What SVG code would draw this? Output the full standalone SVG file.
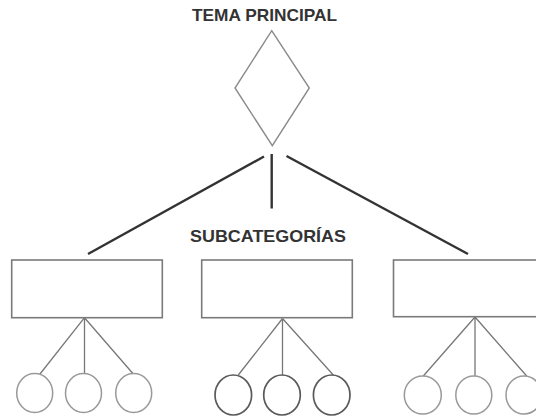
<svg xmlns="http://www.w3.org/2000/svg" width="536" height="417" viewBox="0 0 536 417">
<style>
.t{font-family:"Liberation Sans",Arial,sans-serif;font-weight:bold;font-size:17px;fill:#333}
.dia{fill:#fff;stroke:#8a8a8a;stroke-width:1.4}
.box{fill:#fff;stroke:#7a7a7a;stroke-width:1.6}
.main{stroke:#333;stroke-width:2.4;stroke-linecap:butt;fill:none}
.sub{stroke:#777;stroke-width:1.3;fill:none}
.c{fill:#fff;stroke:#999;stroke-width:1.5}
.cd{fill:#fff;stroke:#5a5a5a;stroke-width:1.7}
</style>
<rect width="536" height="417" fill="#fff"/>
<g id="connectors">
<line class="main" x1="264" y1="156.5" x2="88" y2="254"/>
<line class="main" x1="271.7" y1="154" x2="271.7" y2="208.5"/>
<line class="main" x1="286.5" y1="156" x2="468" y2="254"/>
<path class="sub" d="M84.5 317.7L40 374M84.5 317.7L84.5 374M84.5 317.7L133.3 374"/>
<path class="sub" d="M282.5 318.5L238.3 375M282.5 318.5L282.5 376M282.5 318.5L333.3 375"/>
<path class="sub" d="M475 317L423.3 376M475 317L475 376M475 317L526.7 376"/>
</g>
<g id="tema-principal">
<text class="t" x="192" y="20.7" textLength="145" lengthAdjust="spacingAndGlyphs">TEMA PRINCIPAL</text>
<polygon class="dia" points="271.7,30.7 309.3,88 272.3,145.7 235,88"/>
</g>
<g id="subcategorias-label">
<text class="t" x="190" y="241.7" textLength="156" lengthAdjust="spacingAndGlyphs">SUBCATEGORÍAS</text>
</g>
<g id="sub1"><rect class="box" x="11.7" y="260" width="150.6" height="57.7"/></g>
<g id="sub2"><rect class="box" x="201.7" y="260" width="150.6" height="57.7"/></g>
<g id="sub3"><rect class="box" x="393.5" y="260" width="150.6" height="56.7"/></g>
<g id="c1a"><ellipse class="c" cx="34.7" cy="393" rx="18" ry="19.5"/></g>
<g id="c1b"><ellipse class="c" cx="83.5" cy="393" rx="18" ry="19.5"/></g>
<g id="c1c"><ellipse class="c" cx="133.7" cy="393" rx="18" ry="19.5"/></g>
<g id="c2a"><ellipse class="cd" cx="233.3" cy="395" rx="18.3" ry="20"/></g>
<g id="c2b"><ellipse class="cd" cx="282" cy="395" rx="18.3" ry="20"/></g>
<g id="c2c"><ellipse class="cd" cx="331.7" cy="395" rx="18.3" ry="20"/></g>
<g id="c3a"><ellipse class="c" cx="422.8" cy="395" rx="18.5" ry="19"/></g>
<g id="c3b"><ellipse class="c" cx="473.8" cy="395" rx="18" ry="19"/></g>
<g id="c3c"><ellipse class="c" cx="524" cy="395" rx="18" ry="19"/></g>
</svg>
